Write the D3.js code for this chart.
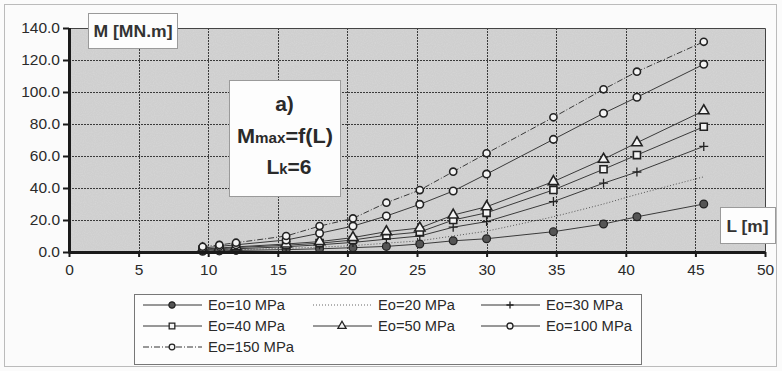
<!DOCTYPE html>
<html>
<head>
<meta charset="utf-8">
<script src="https://cdn.jsdelivr.net/npm/d3@7"></script>
<style>
  html, body { margin: 0; padding: 0; background: #fbfbfb; }
  svg { display: block; font-family: "Liberation Sans", Arial, sans-serif; }
</style>
</head>
<body>
<svg id="chart" width="782" height="371"></svg>
<script>
// Span lengths L [m]
const spans = [9.6, 10.8, 12, 15.6, 18, 20.4, 22.8, 25.2, 27.6, 30, 34.8, 38.4, 40.8, 45.6];

// Maximum moment M [MN.m] for each subgrade modulus Eo
const e10  = [0.5, 0.7, 1.0, 1.5, 2.0, 2.7, 3.5, 5.0, 7.0, 8.3, 12.7, 17.5, 22.0, 30.0];
const e20  = [0.7, 1.0, 1.4, 2.3, 3.0, 4.0, 5.5, 7.0, 10.0, 13.0, 22.0, 30.0, 36.0, 47.0];
const e30  = [1.0, 1.5, 2.0, 3.3, 4.5, 6.0, 8.0, 10.0, 15.5, 19.0, 31.5, 43.0, 50.0, 66.0];
const e40  = [1.5, 2.0, 2.8, 4.2, 5.5, 7.5, 10.5, 12.5, 20.0, 24.5, 38.8, 51.7, 60.6, 78.3];
const e50  = [1.8, 2.5, 3.2, 5.0, 6.5, 9.0, 12.7, 15.0, 23.1, 28.3, 44.0, 58.0, 68.3, 88.3];
const e100 = [2.5, 3.5, 4.5, 7.5, 11.7, 16.2, 22.5, 29.8, 38.1, 48.7, 70.4, 86.7, 96.7, 117.3];
const e150 = [3.3, 4.4, 5.8, 10.0, 16.2, 21.0, 30.8, 38.7, 50.2, 61.7, 84.2, 101.7, 112.7, 131.4];

const seriesNames = ["Eo=10 MPa", "Eo=20 MPa", "Eo=30 MPa", "Eo=40 MPa", "Eo=50 MPa", "Eo=100 MPa", "Eo=150 MPa"];
const seriesValues = [e10, e20, e30, e40, e50, e100, e150];

const xTicks = [0, 5, 10, 15, 20, 25, 30, 35, 40, 45, 50];
const yTicks = [0, 20, 40, 60, 80, 100, 120, 140];

// Drawing style per series: marker kind, line dash
const styles = [
  { marker: "dot",      dash: null },
  { marker: "none",     dash: "1,2" },
  { marker: "plus",     dash: null },
  { marker: "square",   dash: null },
  { marker: "triangle", dash: null },
  { marker: "circle",   dash: null },
  { marker: "diamond",  dash: "6,2,1,2" }
];

const svg = d3.select("#chart");
const x = d3.scaleLinear().domain([0, 50]).range([69, 765]);
const y = d3.scaleLinear().domain([0, 140]).range([252, 28]);

// outer frame
svg.append("rect").attr("x", 4.5).attr("y", 4.5).attr("width", 772).attr("height", 362)
  .attr("fill", "#fbfbfb").attr("stroke", "#bbbbbb").attr("stroke-width", 1);

// plot area background with a little grain
const grain = svg.append("defs").append("filter").attr("id", "grain");
grain.append("feTurbulence").attr("type", "fractalNoise").attr("baseFrequency", 0.9).attr("numOctaves", 1).attr("seed", 3).attr("result", "n");
grain.append("feColorMatrix").attr("in", "n").attr("type", "matrix")
  .attr("values", "0 0 0 0 0.8  0 0 0 0 0.8  0 0 0 0 0.8  0 0 0 -0.9 0.55").attr("result", "c");
grain.append("feComposite").attr("in", "c").attr("in2", "SourceGraphic").attr("operator", "in");

svg.append("rect").attr("x", x(0)).attr("y", y(140)).attr("width", x(50) - x(0)).attr("height", y(0) - y(140))
  .attr("fill", "#cfcfcf");
svg.append("rect").attr("x", x(0)).attr("y", y(140)).attr("width", x(50) - x(0)).attr("height", y(0) - y(140))
  .attr("fill", "#cfcfcf").attr("filter", "url(#grain)").attr("opacity", 0.6);

// gridlines
const grid = svg.append("g").attr("stroke", "#3a3a3a").attr("stroke-width", 1).attr("stroke-dasharray", "2,1");
grid.selectAll("line.v").data(xTicks.filter(d => d > 0 && d < 50)).join("line")
  .attr("x1", d => Math.round(x(d)) + 0.5).attr("x2", d => Math.round(x(d)) + 0.5)
  .attr("y1", y(140)).attr("y2", y(0));
grid.selectAll("line.h").data(yTicks.filter(d => d > 0 && d < 140)).join("line")
  .attr("y1", d => Math.round(y(d)) + 0.5).attr("y2", d => Math.round(y(d)) + 0.5)
  .attr("x1", x(0)).attr("x2", x(50));

// plot border (top / right)
svg.append("path")
  .attr("d", `M${x(0)},${y(140) + 0.5}H${x(50) + 0.5}V${y(0)}`)
  .attr("fill", "none").attr("stroke", "#444").attr("stroke-width", 1);

// series lines
const line = d3.line().x(d => x(d[0])).y(d => y(d[1]));
const plot = svg.append("g");
seriesValues.forEach((vals, i) => {
  const pts = spans.map((L, j) => [L, vals[j]]);
  plot.append("path").datum(pts)
    .attr("d", line)
    .attr("fill", "none")
    .attr("stroke", i === 1 ? "#555" : "#3a3a3a")
    .attr("stroke-width", 1)
    .attr("stroke-dasharray", styles[i].dash);
});

// marker drawing; k scales the marker size
function drawMarker(g, kind, cx, cy, k) {
  if (kind === "none") return;
  if (kind === "plus") {
    const h = 4.5 * k;
    g.append("path").attr("d", `M${cx - h},${cy}H${cx + h}M${cx},${cy - h}V${cy + h}`)
      .attr("stroke", "#222").attr("stroke-width", 1.3).attr("fill", "none");
    return;
  }
  const shapes = {
    dot: [d3.symbolCircle, 48],
    square: [d3.symbolSquare, 50],
    triangle: [d3.symbolTriangle, 46],
    circle: [d3.symbolCircle, 44],
    diamond: [d3.symbolCircle, 40]
  };
  const [t, s] = shapes[kind];
  g.append("path").attr("d", d3.symbol().type(t).size(s * k * k)())
    .attr("transform", `translate(${cx},${cy})`)
    .attr("fill", kind === "dot" ? "#555" : "#f4f4f4")
    .attr("stroke", "#222").attr("stroke-width", kind === "dot" ? 1.2 : 1.6 * k);
}

seriesValues.forEach((vals, i) => {
  spans.forEach((L, j) => drawMarker(plot, styles[i].marker, x(L), y(vals[j]), 1));
});

// axes
const yAxis = svg.append("g").attr("transform", `translate(${x(0)},0)`)
  .call(d3.axisLeft(y).tickValues(yTicks).tickFormat(d3.format(".1f")).tickSize(6).tickPadding(3));
const xAxis = svg.append("g").attr("transform", `translate(0,${y(0)})`)
  .call(d3.axisBottom(x).tickValues(xTicks).tickSize(5).tickPadding(7));
[yAxis, xAxis].forEach(a => {
  a.select(".domain").attr("stroke", "#1a1a1a").attr("stroke-width", 3);
  a.selectAll(".tick line").attr("stroke", "#1a1a1a").attr("stroke-width", 2);
  a.selectAll(".tick text").attr("fill", "#2a2a2a").attr("font-size", 15.5)
    .attr("font-family", "'Liberation Sans', Arial, sans-serif");
});
yAxis.select(".domain").attr("d", `M0.5,${y(140)}V${y(0) + 1.5}`);
xAxis.select(".domain").attr("d", `M${x(0)},0.5H${x(50)}`);

// axis title boxes
function labelBox(bx, by, bw, bh) {
  svg.append("rect").attr("x", bx + 0.5).attr("y", by + 0.5).attr("width", bw).attr("height", bh)
    .attr("fill", "#fdfdfd").attr("stroke", "#9a9a9a").attr("stroke-width", 1);
}
labelBox(88, 13, 89, 35);
svg.append("text").attr("x", 133).attr("y", 36.5).attr("text-anchor", "middle")
  .attr("font-size", 16).attr("font-weight", "bold").attr("fill", "#333")
  .attr("textLength", 79).attr("lengthAdjust", "spacingAndGlyphs").text("M [MN.m]");

labelBox(720, 207, 55, 36);
svg.append("text").attr("x", 747.5).attr("y", 231.5).attr("text-anchor", "middle")
  .attr("font-size", 17).attr("font-weight", "bold").attr("fill", "#333")
  .attr("textLength", 42).attr("lengthAdjust", "spacingAndGlyphs").text("L [m]");

// annotation box
labelBox(229, 80, 111, 116);
const note = svg.append("g").attr("fill", "#2a2a2a").attr("text-anchor", "middle").attr("font-weight", "bold");
note.append("text").attr("x", 284.5).attr("y", 111).attr("font-size", 21).text("a)");
const t2 = note.append("text").attr("x", 285).attr("y", 143).attr("font-size", 20)
  .attr("textLength", 96).attr("lengthAdjust", "spacingAndGlyphs");
t2.append("tspan").text("M");
t2.append("tspan").attr("font-size", 14).text("max");
t2.append("tspan").text("=f(L)");
const t3 = note.append("text").attr("x", 289).attr("y", 174).attr("font-size", 20)
  .attr("textLength", 45).attr("lengthAdjust", "spacingAndGlyphs");
t3.append("tspan").text("L");
t3.append("tspan").attr("font-size", 14).text("k");
t3.append("tspan").text("=6");

// legend
svg.append("rect").attr("x", 134.5).attr("y", 294.5).attr("width", 507).attr("height", 70)
  .attr("fill", "#fdfdfd").attr("stroke", "#777").attr("stroke-width", 1);
const legCols = [143, 313, 481];
const legRows = [305, 326, 347];
const legend = svg.append("g");
seriesNames.forEach((name, i) => {
  const cx = legCols[i % 3], cy = legRows[Math.floor(i / 3)];
  legend.append("line").attr("x1", cx).attr("x2", cx + 59).attr("y1", cy).attr("y2", cy)
    .attr("stroke", i === 1 ? "#666" : "#333").attr("stroke-width", 1)
    .attr("stroke-dasharray", styles[i].dash);
  drawMarker(legend, styles[i].marker, cx + 29, cy, 0.8);
  legend.append("text").attr("x", cx + 65).attr("y", cy + 5).attr("font-size", 14)
    .attr("fill", "#2a2a2a").attr("textLength", i >= 5 ? 86 : 77).attr("lengthAdjust", "spacingAndGlyphs")
    .text(name);
});
</script>
</body>
</html>
